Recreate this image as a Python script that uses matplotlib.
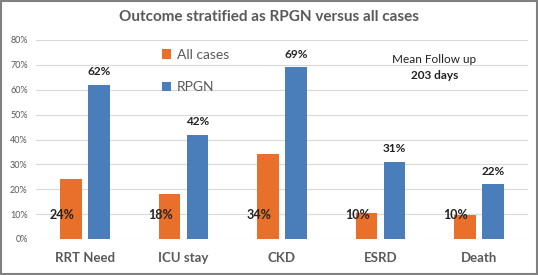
import matplotlib.pyplot as plt
import matplotlib.ticker as ticker
import numpy as np

plt.rcParams['font.family'] = ['Lato', 'DejaVu Sans']

# --- data ---
categories = ['RRT Need', 'ICU stay', 'CKD', 'ESRD', 'Death']
all_cases = [24, 18, 34, 10.5, 9.5]
rpgn = [62, 42, 69, 31, 22]
all_labels = ['24%', '18%', '34%', '10%', '10%']
rpgn_labels = ['62%', '42%', '69%', '31%', '22%']

c_all = '#E8702A'
c_rpgn = '#4A7EBB'

fig = plt.figure(figsize=(5.38, 2.75), dpi=100)
ax = fig.add_axes([36 / 538, 36 / 275, 492 / 538, 199 / 275])

x = np.arange(len(categories))
w = 0.22
gap = 0.065
ax.bar(x - (w + gap) / 2, all_cases, w, color=c_all, label='All cases', zorder=3)
ax.bar(x + (w + gap) / 2, rpgn, w, color=c_rpgn, label='RPGN', zorder=3)

# data labels
for i in range(len(categories)):
    ax.text(x[i] - (w + gap) / 2 - w / 2 + 0.02, 9.5, all_labels[i], ha='center', va='center',
            fontsize=9, fontweight='bold', color='#222222', zorder=4)
    ax.text(x[i] + (w + gap) / 2, rpgn[i] + 3, rpgn_labels[i], ha='center', va='bottom',
            fontsize=8.5, fontweight='bold', color='#222222', zorder=4)

ax.set_xlim(-0.5, len(categories) - 0.5)
ax.set_ylim(0, 80)
ax.yaxis.set_major_locator(ticker.MultipleLocator(10))
ax.yaxis.set_major_formatter(ticker.FuncFormatter(lambda v, p: f'{int(v)}%'))
ax.grid(axis='y', color='#d9d9d9', linewidth=0.8, zorder=0)
for s in ax.spines.values():
    s.set_visible(False)
ax.tick_params(axis='y', length=0, labelsize=6.5, labelcolor='#595959', pad=6)
ax.tick_params(axis='x', length=0, labelsize=9.5, labelcolor='#595959', pad=9)
ax.set_xticks(x)
ax.set_xticklabels(categories, fontweight='bold')

ax.legend(loc='upper left', bbox_to_anchor=(0.23, 1.02), frameon=False, fontsize=10,
          handlelength=0.7, handleheight=0.7, handletextpad=0.4, labelspacing=1.5,
          labelcolor='#595959')

ax.text(0.81, 0.90, 'Mean Follow up', transform=ax.transAxes, ha='center', va='center',
        fontsize=8.5, color='#222222')
ax.text(0.81, 0.82, '203 days', transform=ax.transAxes, ha='center', va='center',
        fontsize=8.5, fontweight='bold', color='#222222')

fig.text(0.5, 1 - 17 / 275, 'Outcome stratified as RPGN versus all cases', ha='center', va='center',
         fontsize=11, fontweight='bold', color='#595959')

# outer border
fig.patches.append(plt.Rectangle((0.002, 0.003), 0.996, 0.994, transform=fig.transFigure,
                                 fill=False, edgecolor='#808080', linewidth=1.5))

plt.savefig('out.png', dpi=100)
